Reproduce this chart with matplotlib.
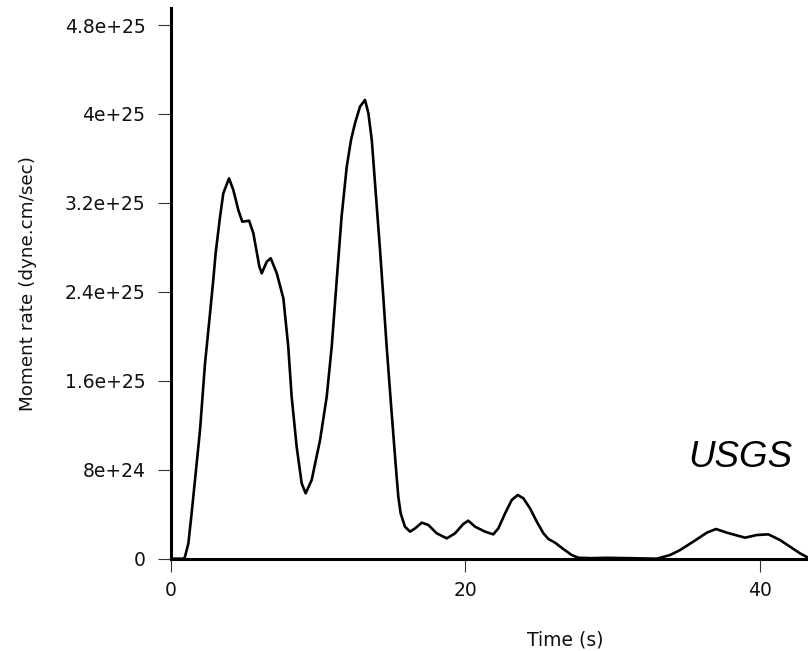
import matplotlib
matplotlib.use("Agg")
import matplotlib.pyplot as plt
import numpy as np
from matplotlib.ticker import FixedLocator, FixedFormatter

# Source time function (time in s, moment rate in units of 1e25 dyne.cm/sec)
time_s = [0, 0.9, 0.97, 1.2, 1.42, 1.65, 1.99, 2.33, 2.67, 2.89,
          3.05, 3.35, 3.57, 3.96, 4.25, 4.59, 4.86, 5.32, 5.61, 6.02,
          6.18, 6.52, 6.79, 7.2, 7.65, 7.98, 8.21, 8.55, 8.89, 9.16,
          9.57, 10.14, 10.59, 10.93, 11.27, 11.6, 11.95, 12.24, 12.51, 12.85,
          13.19, 13.42, 13.65, 13.87, 14.21, 14.43, 14.66, 15.0, 15.3, 15.45,
          15.61, 15.9, 16.25, 16.59, 17.04, 17.49, 18.06, 18.74, 19.3, 19.86,
          20.2, 20.66, 21.34, 21.9, 22.24, 22.7, 23.15, 23.56, 23.94, 24.39,
          24.85, 25.3, 25.64, 26.09, 26.65, 27.22, 27.67,
          28.5, 29.6, 31.0, 33.0, 33.9, 34.58, 35.71, 36.39, 37.02, 37.75,
          38.99, 39.78, 40.57, 41.36, 42.04, 42.72, 43.27]
moment_e25 = [0, 0, 0.018, 0.138, 0.408, 0.708, 1.157, 1.757, 2.207, 2.507,
              2.747, 3.076, 3.286, 3.421, 3.316, 3.136, 3.031, 3.04, 2.927, 2.626,
              2.567, 2.671, 2.702, 2.567, 2.34, 1.907, 1.457, 1.007, 0.678, 0.588,
              0.708, 1.068, 1.457, 1.907, 2.507, 3.076, 3.526, 3.766, 3.916, 4.066,
              4.126, 4.006, 3.766, 3.376, 2.776, 2.357, 1.907, 1.308, 0.798, 0.558,
              0.408, 0.288, 0.243, 0.273, 0.324, 0.303, 0.228, 0.183, 0.228, 0.312,
              0.342, 0.288, 0.243, 0.219, 0.273, 0.408, 0.528, 0.573, 0.543, 0.453,
              0.333, 0.228, 0.177, 0.144, 0.087, 0.033, 0.009,
              0.005, 0.008, 0.005, 0.0, 0.033, 0.078, 0.174, 0.234, 0.267, 0.234,
              0.189, 0.213, 0.219, 0.168, 0.108, 0.048, 0.009]

xtick_values = [0, 20, 40]
xtick_labels = ["0", "20", "40"]
ytick_values = [0, 8e24, 1.6e25, 2.4e25, 3.2e25, 4e25, 4.8e25]
ytick_labels = ["0", "8e+24", "1.6e+25", "2.4e+25", "3.2e+25", "4e+25", "4.8e+25"]

plt.rcParams['font.family'] = ['DejaVu Sans']

fig = plt.figure(figsize=(8.08, 6.51), dpi=100)
ax = fig.add_axes([170.7 / 808, (651 - 558.7) / 651, 1 - 170.7 / 808, (558.7 - 8) / 651])

t = np.array(time_s)
m = np.array(moment_e25) * 1e25
ax.plot(t, m, color='black', lw=1.9, solid_joinstyle='round', solid_capstyle='round')

ax.set_xlim(0, 43.26)
ax.set_ylim(0, 4.953e25)

for s in ['top', 'right']:
    ax.spines[s].set_visible(False)
for s in ['left', 'bottom']:
    ax.spines[s].set_linewidth(2.2)
    ax.spines[s].set_color('black')

ax.xaxis.set_major_locator(FixedLocator(xtick_values))
ax.xaxis.set_major_formatter(FixedFormatter(xtick_labels))
ax.yaxis.set_major_locator(FixedLocator(ytick_values))
ax.yaxis.set_major_formatter(FixedFormatter(ytick_labels))
ax.tick_params(axis='both', direction='out', length=9.1, width=0.8,
               color='#333333', labelsize=13.5, labelcolor='#111111')
ax.tick_params(axis='x', pad=7)
ax.tick_params(axis='y', pad=9)

ax.set_xlabel("Time (s)", fontsize=13.5, color='#111111')
ax.xaxis.set_label_coords(0.619, -0.1295)
ax.set_ylabel("Moment rate (dyne.cm/sec)", fontsize=13.2, color='#111111')
ax.yaxis.set_label_coords(-0.2096, 0.5)

ax.text((688 - 170.7) / 637.3, (558.7 - 466.7) / 550.7, "USGS", transform=ax.transAxes,
        fontsize=26.5, fontstyle='italic', family='Liberation Sans',
        ha='left', va='baseline', color='black')

fig.savefig("out.png", dpi=100)
